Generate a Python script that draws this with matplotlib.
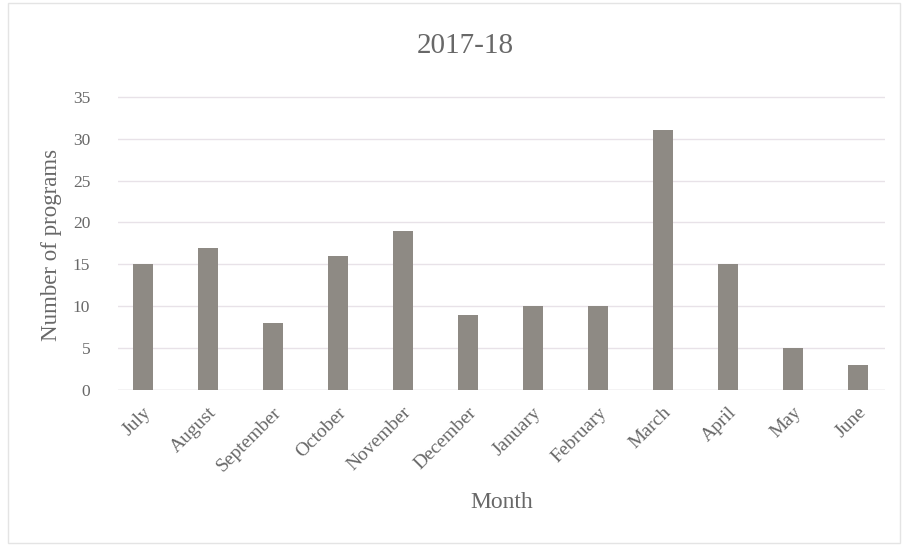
import matplotlib
matplotlib.use("Agg")
import matplotlib.pyplot as plt
from matplotlib.patches import Rectangle

# Programs per month, 2017-18
MONTHS = ["July", "August", "September", "October", "November", "December",
          "January", "February", "March", "April", "May", "June"]
PROGRAMS = [15, 17, 8, 16, 19, 9, 10, 10, 31, 15, 5, 3]
Y_TICKS = [0, 5, 10, 15, 20, 25, 30, 35]

TEXT = "#686868"
W, H = 907, 546

plt.rcParams["font.family"] = ["Liberation Serif", "DejaVu Serif"]

fig = plt.figure(figsize=(W / 100, H / 100), dpi=100)
ax = fig.add_axes([118 / W, 1 - 390 / H, (885 - 118) / W, (390 - 80) / H])

x = range(len(MONTHS))
ax.bar(x, PROGRAMS, width=0.31, color="#8e8a84", zorder=3)

ax.set_xlim(-0.38, len(MONTHS) - 0.58)
ax.set_ylim(0, 37)
ax.set_yticks(Y_TICKS)
ax.set_xticks(list(x))
ax.set_xticklabels(MONTHS, rotation=45, ha="right", rotation_mode="anchor",
                   fontsize=14, color=TEXT)
ax.tick_params(axis="y", labelsize=12.5, labelcolor=TEXT, length=0, pad=20)
ax.tick_params(axis="x", length=0, pad=10)
ax.yaxis.grid(True, color="#e8e2e8", linewidth=1.0, zorder=0)
for spine in ax.spines.values():
    spine.set_visible(False)
ax.axhline(0, color="#dcdcdc", linewidth=1.0, zorder=2)

fig.text(52 / W, 1 - 245 / H, "Number of programs", rotation=90,
         ha="center", va="center", fontsize=16.5, color=TEXT)
fig.text(502 / W, 1 - 503 / H, "Month", ha="center", va="center",
         fontsize=17, color=TEXT)
fig.text(465 / W, 1 - 46 / H, "2017-18", ha="center", va="center",
         fontsize=21, color=TEXT)

fig.patches.append(Rectangle((8 / W, 3 / H), 892 / W, 540 / H,
                             transform=fig.transFigure, fill=False,
                             edgecolor="#e4e4e4", linewidth=1.0))

fig.savefig("out.png", dpi=100)
